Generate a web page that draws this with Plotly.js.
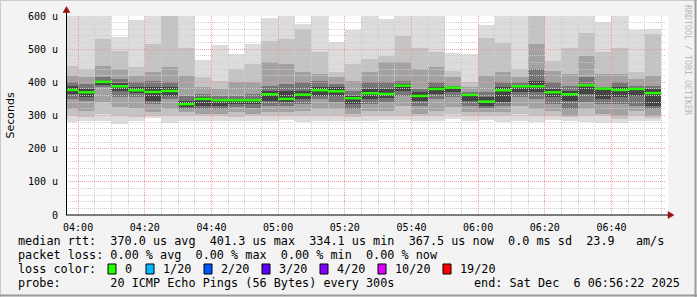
<!DOCTYPE html>
<html><head><meta charset="utf-8">
<script src="https://cdn.plot.ly/plotly-3.0.1.min.js"></script>
<style>html,body{margin:0;padding:0;background:#f3f3f3;}#chart{width:697px;height:297px;}</style>
</head><body><div id="chart"></div>
<script>
// ---- data (microseconds) ----
const day = '2025-12-06';
const times = ['04:00','04:05','04:10','04:15','04:20','04:25','04:30','04:35','04:40','04:45','04:50','04:55',
  '05:00','05:05','05:10','05:15','05:20','05:25','05:30','05:35','05:40','05:45','05:50','05:55',
  '06:00','06:05','06:10','06:15','06:20','06:25','06:30','06:35','06:40','06:45','06:50','06:55'];
const median = [377,370,401.3,388,376,371,374,334.1,350,346,346,346,364,350,363,376,373,352,367,365,390,359,380,384,362,342,376,388,388,370,364,391,381,377,380,367.5];
// smoke bands, outermost (1) to innermost (5)
const band1Lo = [280,282,283,275,282,292,277,284,282,282,282,284,282,287,280,282,282,282,282,285,285,282,282,290,282,285,280,283,280,287,282,280,277,277,282,282];
const band1Hi = [610,610,610,537,588,610,620,610,467,514,484,517,594,610,577,610,522,557,610,590,610,610,610,487,484,572,610,610,620,610,610,610,582,610,557,562];
const band2Lo = [300,295,305,300,295,300,300,300,300,298,295,298,300,300,300,300,300,295,300,300,300,300,300,305,300,300,300,305,300,300,297,300,300,290,300,292];
const band2Hi = [450,440,530,495,445,515,620,505,415,405,440,455,525,530,560,490,430,455,470,480,540,505,490,435,400,535,520,440,620,465,505,550,490,505,430,545];
const band3Lo = [320,315,340,325,322,310,320,310,305,305,310,305,310,310,315,320,320,305,315,315,330,305,315,325,310,310,310,330,320,315,300,320,305,300,315,300];
const band3Hi = [420,415,450,440,420,430,445,420,385,380,400,400,460,455,430,425,415,405,430,460,460,440,445,415,385,420,430,415,515,435,425,480,425,425,410,420];
const band4Lo = [350,345,385,355,355,335,350,320,320,320,325,322,330,330,335,350,340,320,335,340,360,330,350,355,330,322,330,355,350,335,320,340,335,335,330,320];
const band4Hi = [400,395,415,410,400,405,400,360,365,360,360,365,390,395,400,405,395,375,400,400,405,380,400,390,370,370,400,400,440,400,390,415,385,400,390,390];
const band5Lo = [365,355,392,375,368,345,360,325,330,330,335,335,345,340,350,360,360,335,350,352,375,345,365,370,345,330,340,370,370,355,345,365,350,355,360,330];
const band5Hi = [390,380,405,398,385,385,385,345,355,350,350,350,375,375,375,385,385,360,380,380,395,370,385,385,365,355,385,392,405,380,375,395,380,385,383,380];
const bandColors = ['#dcdcdc','#c3c3c3','#a2a2a2','#767676','#454545'];
const yTickVals = [0,100,200,300,400,500,600];
const yTickText = ['0','100 u','200 u','300 u','400 u','500 u','600 u'];
const lossColors = ['#26ff00','#00b8ff','#0059ff','#5e00ff','#7e00ff','#dd00ff','#ff0000'];
const lossLabels = ['0','1/20','2/20','3/20','4/20','10/20','19/20'];
const legendLine1 = 'median rtt:  370.0 us avg  401.3 us max  334.1 us min  367.5 us now  0.0 ms sd  23.9   am/s';
const legendLine2 = 'packet loss: 0.00 % avg  0.00 % max  0.00 % min  0.00 % now';
const legendLine3 = 'loss color:';
const legendLine4 = 'probe:       20 ICMP Echo Pings (56 Bytes) every 300s';
const endText = 'end: Sat Dec  6 06:56:22 2025';
const rangeStart = '03:56:22', rangeEnd = '06:56:22';

// ---- helpers ----
const STEP = 300000;
const ms = t => Date.parse(day + 'T' + (t.length === 5 ? t + ':00' : t) + 'Z');
const tMs = times.map(ms);
const centers = tMs.map(v => v - STEP / 2);
const nb = s => s.replace(/ /g, '\u00a0');

const los = [band1Lo, band2Lo, band3Lo, band4Lo, band5Lo];
const his = [band1Hi, band2Hi, band3Hi, band4Hi, band5Hi];
const traces = los.map((lo, k) => ({
  type: 'bar', x: centers, base: lo, y: his[k].map((h, i) => h - lo[i]),
  width: tMs.map(() => STEP), marker: {color: bandColors[k], line: {width: 0}},
  hoverinfo: 'skip', showlegend: false, xaxis: 'x', yaxis: 'y'
}));
const mx = [], my = [];
tMs.forEach((t, i) => { mx.push(t - STEP, t, null); my.push(median[i], median[i], null); });
traces.push({type: 'scatter', mode: 'lines', x: mx, y: my, line: {color: '#26ff00', width: 2.4},
  hoverinfo: 'skip', showlegend: false, xaxis: 'x2', yaxis: 'y2'});

// ---- geometry (pixel helpers) ----
const L = 66, R = 666, T = 16, B = 215;
const px = x => (x - L) / (R - L);
const py = y => (B - y) / (B - T);

const shapes = [];
// white canvas under everything
shapes.push({type: 'rect', layer: 'below', xref: 'paper', yref: 'paper', x0: 0, x1: px(668), y0: 0, y1: 1,
  fillcolor: '#ffffff', line: {width: 0}});
// axis lines + arrows
shapes.push({type: 'line', layer: 'above', xref: 'paper', yref: 'paper', x0: px(66), x1: px(671), y0: py(215), y1: py(215), line: {color: '#000', width: 1}});
shapes.push({type: 'line', layer: 'above', xref: 'paper', yref: 'paper', x0: px(66.5), x1: px(66.5), y0: py(215), y1: py(10), line: {color: '#000', width: 1}});
shapes.push({type: 'path', layer: 'above', xref: 'paper', yref: 'paper',
  path: `M ${px(668)} ${py(211.5)} L ${px(674)} ${py(215)} L ${px(668)} ${py(218.5)} Z`,
  fillcolor: '#9b1010', line: {color: '#9b1010', width: 0.5}});
shapes.push({type: 'path', layer: 'above', xref: 'paper', yref: 'paper',
  path: `M ${px(63)} ${py(12.5)} L ${px(66.5)} ${py(6.5)} L ${px(70)} ${py(12.5)} Z`,
  fillcolor: '#9b1010', line: {color: '#9b1010', width: 0.5}});
// frame
shapes.push({type: 'line', xref: 'paper', yref: 'paper', x0: px(0), x1: px(697), y0: py(0.5), y1: py(0.5), line: {color: '#cbcbcb', width: 1}});
shapes.push({type: 'line', xref: 'paper', yref: 'paper', x0: px(0.5), x1: px(0.5), y0: py(0), y1: py(297), line: {color: '#cbcbcb', width: 1}});
shapes.push({type: 'line', xref: 'paper', yref: 'paper', x0: px(0), x1: px(697), y0: py(295.5), y1: py(295.5), line: {color: '#9b9b9b', width: 2}});
shapes.push({type: 'line', xref: 'paper', yref: 'paper', x0: px(695.5), x1: px(695.5), y0: py(0), y1: py(297), line: {color: '#9b9b9b', width: 2}});

// legend
const boxX = [108, 146, 204, 262, 320, 378, 443];
const mono = {family: 'DejaVu Sans Mono', size: 11.8, color: '#000'};
const annotations = [];
const textAt = (x, y, s, anchor, font) => annotations.push({xref: 'paper', yref: 'paper', x: px(x), y: py(y),
  xanchor: anchor || 'left', yanchor: 'middle', text: nb(s), showarrow: false, font: font || mono});
textAt(16, 241, legendLine1);
textAt(16, 255, legendLine2);
textAt(16, 269, legendLine3);
textAt(16, 283, legendLine4);
textAt(682, 283, endText, 'right');
lossColors.forEach((c, i) => {
  shapes.push({type: 'rect', xref: 'paper', yref: 'paper', x0: px(boxX[i]), x1: px(boxX[i] + 8), y0: py(264), y1: py(274),
    fillcolor: c, line: {color: '#000', width: 1}});
  textAt(boxX[i] + 14.5, 269, lossLabels[i]);
});
annotations.push({xref: 'paper', yref: 'paper', x: px(10), y: py(115.5), xanchor: 'center', yanchor: 'middle',
  text: 'Seconds', textangle: -90, showarrow: false, font: {family: 'DejaVu Sans', size: 11, color: '#000'}});
annotations.push({xref: 'paper', yref: 'paper', x: px(688), y: py(60), xanchor: 'center', yanchor: 'middle',
  text: nb('RRDTOOL / TOBI OETIKER'), textangle: 90, showarrow: false, font: {family: 'DejaVu Sans Mono', size: 8.3, color: '#b8b8b8'}});

const xs = ms(rangeStart), xe = ms(rangeEnd);
const minorC = '#cdcdcd', majorC = '#e8a0a0', dash = '1px,1px';
const tickFont = {family: 'DejaVu Sans Mono', size: 10, color: '#000'};
const layout = {
  width: 697, height: 297, margin: {l: L, r: 697 - R, t: T, b: 297 - B},
  paper_bgcolor: '#f3f3f3', plot_bgcolor: 'rgba(0,0,0,0)',
  barmode: 'overlay', bargap: 0, showlegend: false,
  xaxis: {type: 'date', range: [xs, xe], visible: false, anchor: 'y'},
  yaxis: {range: [0, 600], visible: false, anchor: 'x'},
  xaxis2: {type: 'date', range: [xs, xe], anchor: 'y2', zeroline: false, showline: false,
    showgrid: true, gridcolor: majorC, griddash: dash, gridwidth: 1,
    minor: {dtick: STEP, tick0: ms('04:00'), showgrid: true, gridcolor: minorC, griddash: dash, gridwidth: 1},
    tick0: ms('04:00'), dtick: 1200000, tickformat: '%H:%M', ticks: 'outside', ticklen: 3, tickcolor: 'rgba(0,0,0,0)',
    tickfont: tickFont},
  yaxis2: {range: [0, 600], anchor: 'x2', zeroline: false, showline: false,
    showgrid: true, gridcolor: majorC, griddash: dash, gridwidth: 1,
    minor: {dtick: 20, tick0: 0, showgrid: true, gridcolor: minorC, griddash: dash, gridwidth: 1},
    tickvals: yTickVals, ticktext: yTickText, ticks: 'outside', ticklen: 5, tickcolor: 'rgba(0,0,0,0)',
    tickfont: tickFont},
  shapes: shapes, annotations: annotations
};
Plotly.newPlot('chart', traces, layout, {staticPlot: true, displayModeBar: false});
</script></body></html>
